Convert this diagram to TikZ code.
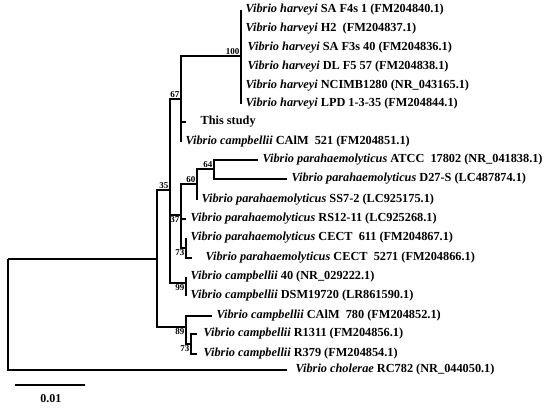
\documentclass[tikz,border=0pt]{standalone}
\usepackage{fontspec}
\setmainfont{Liberation Serif}
\tikzset{
  leaf/.style={anchor=west,inner xsep=4pt,inner ysep=0pt,font=\bfseries\fontsize{12.3}{14}\selectfont},
  boot/.style={inner sep=1pt,font=\bfseries\fontsize{9}{10}\selectfont},
}
\newcommand{\vsp}[1]{\textit{Vibrio #1}}

\begin{document}
\begin{tikzpicture}[x=1pt,y=-1pt,line width=1.3pt]
\useasboundingbox (0,0) rectangle (550,409);
% inner nodes
\coordinate (R) at (8,259);
\coordinate (A) at (157,259);
\coordinate (B) at (170,190);
\coordinate (C) at (181,99);
\coordinate (D) at (241,56);
\coordinate (E) at (181,215);
\coordinate (F) at (197,184);
\coordinate (G) at (214,169);
\coordinate (H) at (186,248);
\coordinate (I) at (186,283);
\coordinate (J) at (186,327);
\coordinate (K) at (191,344);
% leaves
\node[leaf] (h1) at (241,10) {\vsp{harveyi} SA F4s 1 (FM204840.1)};
\node[leaf] (h2) at (241,29) {\vsp{harveyi} H2 \ (FM204837.1)};
\node[leaf] (h3) at (241,48) {\hspace*{2pt}\vsp{harveyi} SA F3s 40 (FM204836.1)};
\node[leaf] (h4) at (241,67) {\hspace*{2pt}\vsp{harveyi} DL F5 57 (FM204838.1)};
\node[leaf] (h5) at (241,86) {\vsp{harveyi} NCIMB1280 (NR\_043165.1)};
\node[leaf] (h6) at (241,104) {\vsp{harveyi} LPD 1-3-35 (FM204844.1)};
\node[leaf] (ts) at (186,122) {\hspace*{10pt}This study};
\node[leaf] (c521) at (181,142) {\vsp{campbellii} CAlM \ 521 (FM204851.1)};
\node[leaf] (atcc) at (258,160) {\vsp{parahaemolyticus} ATCC \ 17802 (NR\_041838.1)};
\node[leaf] (d27) at (287,179) {\vsp{parahaemolyticus} D27-S (LC487874.1)};
\node[leaf] (ss7) at (197,200) {\vsp{parahaemolyticus} SS7-2 (LC925175.1)};
\node[leaf] (rs12) at (186,219) {\vsp{parahaemolyticus} RS12-11 (LC925268.1)};
\node[leaf] (c611) at (186,238) {\vsp{parahaemolyticus} CECT \ 611 (FM204867.1)};
\node[leaf] (c5271) at (192,258) {\hspace*{9pt}\vsp{parahaemolyticus} CECT \ 5271 (FM204866.1)};
\node[leaf] (c40) at (186,277) {\vsp{campbellii} 40 (NR\_029222.1)};
\node[leaf] (dsm) at (186,296) {\vsp{campbellii} DSM19720 (LR861590.1)};
\node[leaf] (c780) at (212,316) {\vsp{campbellii} CAlM \ 780 (FM204852.1)};
\node[leaf] (r1311) at (197,334) {\hspace*{2pt}\vsp{campbellii} R1311 (FM204856.1)};
\node[leaf] (r379) at (197,354) {\hspace*{2pt}\vsp{campbellii} R379 (FM204854.1)};
\node[leaf] (chol) at (287,370) {\hspace*{4pt}\vsp{cholerae} RC782 (NR\_044050.1)};
% branches
\draw (R) |- (A);
\draw (R) |- (chol.west);
\draw (A) |- (B);
\draw (A) |- (J);
\draw (B) |- (C);
\draw (B) |- (E);
\draw (B) |- (I);
\draw (C) |- (D);
\draw (C) |- (ts.west);
\draw (C) |- (c521.west);
\draw (D) |- (h1.west);
\draw (D) |- (h2.west);
\draw (D) |- (h3.west);
\draw (D) |- (h4.west);
\draw (D) |- (h5.west);
\draw (D) |- (h6.west);
\draw (E) |- (F);
\draw (E) |- (rs12.west);
\draw (E) |- (H);
\draw (F) |- (G);
\draw (F) |- (ss7.west);
\draw (G) |- (atcc.west);
\draw (G) |- (d27.west);
\draw (H) |- (c611.west);
\draw (H) |- (c5271.west);
\draw (I) |- (c40.west);
\draw (I) |- (dsm.west);
\draw (J) |- (c780.west);
\draw (J) |- (K);
\draw (K) |- (r1311.west);
\draw (K) |- (r379.west);
% bootstrap values
\node[boot,anchor=south east] (bD) at (D) {100};
\node[boot,anchor=south east] (bC) at (C) {67};
\node[boot,anchor=south east] (bB) at (B) {35};
\node[boot,anchor=south east] (bG) at (G) {64};
\node[boot,anchor=south east] (bF) at (F) {60};
\node[boot,anchor=north east] (bE) at (E) {37};
\node[boot,anchor=north east] (bH) at (H) {73};
\node[boot,anchor=north east] (bI) at (I) {99};
\node[boot,anchor=north east] (bJ) at (J) {89};
\node[boot,anchor=north east] (bK) at (K) {73};
% scale bar
\coordinate (s1) at (15,385);
\coordinate (s2) at (85,385);
\draw (s1) -- (s2);
\node[font=\bfseries\fontsize{12}{14}\selectfont] (sc) at (51,399) {0.01};
\end{tikzpicture}
\end{document}
